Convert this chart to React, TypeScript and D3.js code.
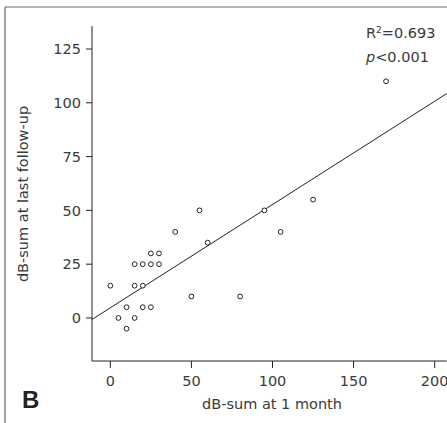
import React, { useMemo } from "react";
import * as d3 from "d3";

const xValues = [0, 5, 10, 10, 15, 15, 15, 20, 25, 30, 25, 30, 20, 20, 25, 40, 55, 60, 50, 95, 125, 105, 80, 170];
const yValues = [15, 0, -5, 5, 0, 15, 25, 25, 25, 25, 30, 30, 15, 5, 5, 40, 50, 35, 10, 50, 55, 40, 10, 110];
const xTicks = [0, 50, 100, 150, 200];
const yTicks = [0, 25, 50, 75, 100, 125];
const xLabel = "dB-sum at 1 month";
const yLabel = "dB-sum at last follow-up";
const panelLabel = "B";

const W = 447;
const H = 423;
const FONT = "'DejaVu Sans', 'Liberation Sans', sans-serif";
const TXT = "#3a3a3a";
const FS = 14.5;

export default function App() {
  const x = d3.scaleLinear().domain([-11.3, 207.4]).range([92, 446.7]);
  const y = d3.scaleLinear().domain([-20, 135.7]).range([361, 26]);

  const fit = useMemo(() => {
    const mx = d3.mean(xValues)!;
    const my = d3.mean(yValues)!;
    let sxy = 0, sxx = 0;
    xValues.forEach((v, i) => {
      sxy += (v - mx) * (yValues[i] - my);
      sxx += (v - mx) * (v - mx);
    });
    const slope = sxy / sxx;
    return { slope, intercept: my - slope * mx };
  }, []);

  const [x0, x1] = x.domain();
  const line = d3.line<number>()
    .x((d) => x(d))
    .y((d) => y(fit.intercept + fit.slope * d));

  return (
    <svg width={W} height={H} style={{ position: "absolute", left: 0, top: 0, background: "#fff" }}>
      {/* frame */}
      <line x1={5} y1={7} x2={W} y2={7} stroke="#666" strokeWidth={1.2} />
      <line x1={5} y1={7} x2={5} y2={H} stroke="#666" strokeWidth={1.2} />

      {/* axes */}
      <line x1={92} y1={y.range()[1]} x2={92} y2={361} stroke="#222" strokeWidth={1} />
      <line x1={92} y1={361} x2={x.range()[1]} y2={361} stroke="#222" strokeWidth={1} />
      {yTicks.map((t) => (
        <g key={"y" + t}>
          <line x1={86} x2={92} y1={y(t)} y2={y(t)} stroke="#222" />
          <text x={81} y={y(t)} dy="0.36em" textAnchor="end" fontFamily={FONT} fontSize={FS} fill={TXT}>
            {t}
          </text>
        </g>
      ))}
      {xTicks.map((t) => (
        <g key={"x" + t}>
          <line x1={x(t)} x2={x(t)} y1={361} y2={368} stroke="#222" />
          <text x={x(t)} y={386} textAnchor="middle" fontFamily={FONT} fontSize={FS} fill={TXT}>
            {t}
          </text>
        </g>
      ))}
      <text x={272} y={409} textAnchor="middle" fontFamily={FONT} fontSize={FS} fill={TXT}>
        {xLabel}
      </text>
      <text
        transform={`translate(28, 194) rotate(-90)`}
        textAnchor="middle"
        fontFamily={FONT}
        fontSize={FS}
        fill={TXT}
      >
        {yLabel}
      </text>
      <text x={22} y={408} fontFamily="'Liberation Sans', Arial, sans-serif" fontSize={24} fontWeight="bold" fill="#222">
        {panelLabel}
      </text>

      {/* regression line */}
      <path d={line([x0, x1]) || ""} fill="none" stroke="#222" strokeWidth={1} />

      {/* points */}
      {xValues.map((v, i) => (
        <circle key={i} cx={x(v)} cy={y(yValues[i])} r={2.4} fill="#fff" stroke="#222" strokeWidth={1} />
      ))}

      {/* annotation */}
      <text x={366} y={38} fontFamily={FONT} fontSize={FS} fill={TXT}>
        R<tspan dy={-5} fontSize={9}>2</tspan><tspan dy={5}>=0.693</tspan>
      </text>
      <text x={366} y={62} fontFamily={FONT} fontSize={FS} fill={TXT}>
        <tspan fontStyle="italic">p</tspan>&lt;0.001
      </text>
    </svg>
  );
}
